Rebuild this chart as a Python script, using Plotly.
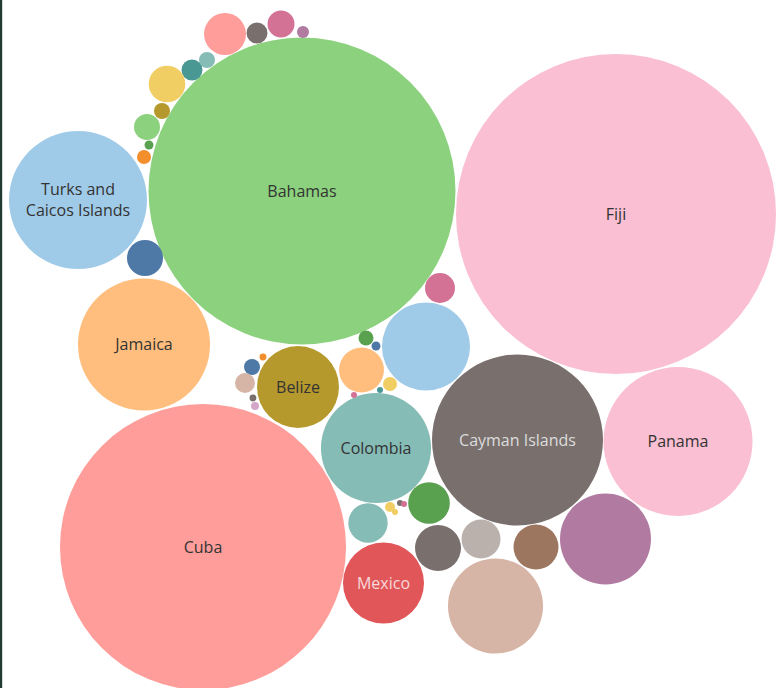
import math
import plotly.graph_objects as go

# Country labels (empty string = bubble too small to carry a label)
labels = [
    "Fiji", "Bahamas", "Cuba", "Cayman Islands", "Panama",
    "Turks and<br>Caicos Islands", "Jamaica", "Colombia", "Belize", "Mexico",
    "", "", "", "", "", "", "", "", "", "",
    "", "", "", "", "", "", "", "", "", "",
    "", "", "", "", "", "", "", "", "", "",
    "", "", "", "", "", "",
]

# Measure per bubble (bubble area is proportional to the value)
values = [
    256.0, 235.6, 204.5, 73.1, 55.5,
    47.6, 43.6, 30.3, 16.8, 16.4,
    22.6, 20.7, 19.4, 2.25, 5.06, 0.56, 0.20, 0.49, 0.09, 0.09,
    0.64, 0.12, 1.00, 0.12, 0.16, 3.24, 4.41, 1.10, 1.82, 0.36,
    0.64, 1.10, 3.35, 0.64, 1.69, 0.20, 0.49, 3.88, 4.33, 5.29,
    3.80, 5.06, 0.25, 0.09, 0.09, 0.09,
]

# Packed-bubble layout: centre of each bubble in chart units
pack_x = [
    616, 302, 203, 517.5, 678,
    78, 144, 376, 298, 383.5,
    495.5, 605.5, 426, 440, 361.5, 366, 376, 390, 380, 354,
    252, 263, 245, 253, 255, 145, 225, 257, 281, 303,
    207, 192, 167, 162, 147, 149, 144, 368, 429, 438,
    481, 536, 390, 400, 404, 395,
]
pack_y = [
    214, 191, 547, 440, 441.5,
    200, 344.5, 448, 387, 583,
    606, 539, 346.5, 288, 370, 338, 346, 384, 390, 395,
    367, 357, 383, 398, 406, 258, 34, 33, 24, 32,
    60, 70, 84, 111, 127, 145, 157, 523, 503, 548,
    539, 547, 507, 503, 504, 512,
]

colors = [
    "#FABFD2", "#8CD17D", "#FF9D9A", "#79706E", "#FABFD2",
    "#A0CBE8", "#FFBE7D", "#86BCB6", "#B6992D", "#E15759",
    "#D7B5A6", "#B07AA1", "#A0CBE8", "#D37295", "#FFBE7D", "#59A14F", "#4E79A7", "#F1CE63", "#499894", "#D37295",
    "#4E79A7", "#F28E2B", "#D7B5A6", "#79706E", "#D4A6C8", "#4E79A7", "#FF9D9A", "#79706E", "#D37295", "#B07AA1",
    "#86BCB6", "#499894", "#F1CE63", "#B6992D", "#8CD17D", "#59A14F", "#F28E2B", "#86BCB6", "#59A14F", "#79706E",
    "#BAB0AC", "#9D7660", "#F1CE63", "#79706E", "#D37295", "#F1CE63",
]

label_colors = {
    "Cayman Islands": "#DCDCDC",
    "Mexico": "#F7D9DA",
}

RADIUS_SCALE = 10.0  # chart units per sqrt(value)

fig = go.Figure()

shapes = []
for v, cx, cy, c in zip(values, pack_x, pack_y, colors):
    r = RADIUS_SCALE * math.sqrt(v)
    shapes.append(dict(
        type="circle", xref="x", yref="y",
        x0=cx - r, x1=cx + r, y0=cy - r, y1=cy + r,
        fillcolor=c, line=dict(width=0), layer="below",
    ))

# dark frame edge on the left side
shapes.append(dict(type="rect", xref="paper", yref="paper",
                   x0=0, x1=0.0028, y0=0, y1=1,
                   fillcolor="#1F3A33", line=dict(width=0)))

lab_idx = [i for i, t in enumerate(labels) if t]
fig.add_trace(go.Scatter(
    x=[pack_x[i] for i in lab_idx],
    y=[pack_y[i] + 1.5 for i in lab_idx],
    mode="text",
    text=[labels[i] for i in lab_idx],
    textposition="middle center",
    textfont=dict(family="Open Sans, sans-serif", size=16,
                  color=[label_colors.get(labels[i], "#333333") for i in lab_idx]),
    hoverinfo="text",
    showlegend=False,
))

fig.update_layout(
    width=776, height=688,
    margin=dict(l=0, r=0, t=0, b=0),
    paper_bgcolor="white", plot_bgcolor="white",
    shapes=shapes,
    xaxis=dict(range=[0, 776], visible=False, fixedrange=True),
    yaxis=dict(range=[688, 0], visible=False, fixedrange=True),
    showlegend=False,
)

fig.write_html("out.html")
